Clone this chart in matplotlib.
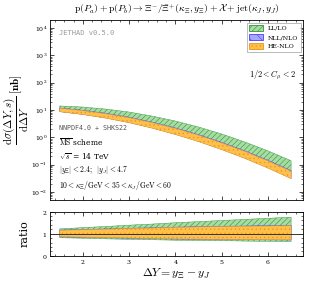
import numpy as np
import matplotlib
matplotlib.use("Agg")
import matplotlib.pyplot as plt
from matplotlib.patches import Patch

plt.rcParams['mathtext.fontset'] = 'cm'
plt.rcParams['font.family'] = 'serif'
plt.rcParams['font.serif'] = ['DejaVu Serif']
plt.rcParams['axes.formatter.use_mathtext'] = True
plt.rcParams['hatch.linewidth'] = 0.4

# ---- data ----
dY = [1.5, 2.0, 2.5, 3.0, 3.5, 4.0, 4.5, 5.0, 5.5, 6.0, 6.5]

ll_central = [11.5, 10.0, 8.1, 6.05, 4.15, 2.63, 1.54, 0.83, 0.41, 0.188, 0.080]
ll_ratio_lo = [0.82, 0.80, 0.77, 0.75, 0.73, 0.71, 0.70, 0.69, 0.67, 0.66, 0.65]
ll_ratio_hi = [1.22, 1.28, 1.33, 1.39, 1.44, 1.50, 1.55, 1.60, 1.65, 1.70, 1.75]

nll_central = [10.1, 8.2, 6.2, 4.34, 2.82, 1.70, 0.95, 0.49, 0.238, 0.106, 0.044]
nll_ratio_lo = [0.86, 0.84, 0.82, 0.80, 0.78, 0.76, 0.75, 0.74, 0.73, 0.725, 0.72]
nll_ratio_hi = [1.17, 1.19, 1.22, 1.25, 1.27, 1.30, 1.32, 1.34, 1.35, 1.37, 1.38]

he_central = [9.9, 8.0, 6.0, 4.2, 2.72, 1.63, 0.91, 0.47, 0.228, 0.101, 0.042]
he_ratio_lo = [0.87, 0.85, 0.83, 0.81, 0.79, 0.77, 0.76, 0.75, 0.74, 0.735, 0.73]
he_ratio_hi = [1.16, 1.18, 1.21, 1.24, 1.26, 1.29, 1.31, 1.32, 1.34, 1.35, 1.36]

labels = ['LL/LO', 'NLL/NLO', 'HE-NLO']
x_ticks = [2, 3, 4, 5, 6]

# ---- figure ----
fig = plt.figure(figsize=(3.09, 2.82), dpi=100)
ax = fig.add_axes([0.162, 0.291, 0.819, 0.638])
axr = fig.add_axes([0.162, 0.0925, 0.819, 0.157], sharex=ax)

x = np.array(dY)
styles = [
    dict(facecolor='#a8dca0', edgecolor='#2e9440', hatch='//////'),
    dict(facecolor='#a8a8ff', edgecolor='#4040ff', hatch='\\\\\\'),
    dict(facecolor='#ffc04a', edgecolor='#e89418', hatch='....'),
]
series = [
    (ll_central, ll_ratio_lo, ll_ratio_hi),
    (nll_central, nll_ratio_lo, nll_ratio_hi),
    (he_central, he_ratio_lo, he_ratio_hi),
]
for (c, rlo, rhi), st, lab in zip(series, styles, labels):
    c = np.array(c); rlo = np.array(rlo); rhi = np.array(rhi)
    ax.fill_between(x, c * rlo, c * rhi, linewidth=0.3, label=lab, **st)
    axr.fill_between(x, rlo, rhi, linewidth=0.3, **st)

ax.set_yscale('log')
ax.set_ylim(10**-2.29, 10**4.29)
ax.set_xlim(1.29, 6.76)
axr.set_ylim(0, 2)
axr.axhline(1.0, color='#333333', lw=0.7)

for a in (ax, axr):
    a.tick_params(which='both', direction='in', top=True, right=True, labelsize=4.5, pad=2)
    a.tick_params(which='major', length=3, width=0.5)
    a.tick_params(which='minor', length=1.5, width=0.4)
    a.minorticks_on()
    for s in a.spines.values():
        s.set_linewidth(0.6)
ax.tick_params(labelbottom=False)
axr.tick_params(axis='x', pad=1.5)
axr.set_xticks(x_ticks)
axr.set_yticks([0, 1, 2])

ax.set_title(r'$\mathrm{p}(P_a) + \mathrm{p}(P_b) \to \Xi^{-}/\bar{\Xi}^{+}(\kappa_{\Xi}, y_{\Xi}) + \mathcal{X} + \mathrm{jet}(\kappa_J, y_J)$',
             fontsize=7, pad=6)
ax.set_ylabel(r'$\dfrac{\mathrm{d}\sigma(\Delta Y, s)}{\mathrm{d}\Delta Y}\;[\mathbf{nb}]$', fontsize=8, labelpad=0)
axr.set_ylabel('ratio', fontsize=8)
axr.yaxis.set_label_coords(-0.08, 0.5)
axr.set_xlabel(r'$\Delta Y = y_{\Xi} - y_J$', fontsize=8.5)
axr.xaxis.set_label_coords(0.5, -0.25)

ax.text(0.035, 0.93, 'JETHAD v0.5.0', transform=ax.transAxes, fontsize=5,
        family='DejaVu Sans Mono', color='#999999', va='center')
ax.text(0.97, 0.69, r'$1/2 < C_{\mu} < 2$', transform=ax.transAxes, fontsize=6,
        ha='right', va='center')
ax.text(0.035, 0.40, 'NNPDF4.0 + SHKS22', transform=ax.transAxes, fontsize=4.8,
        family='DejaVu Sans Mono', color='#555555', va='center')
ax.text(0.035, 0.32, r'$\overline{\mathrm{MS}}$ scheme', transform=ax.transAxes, fontsize=5.5, va='center')
ax.text(0.035, 0.24, r'$\sqrt{s}$ = 14 TeV', transform=ax.transAxes, fontsize=5.5, va='center')
ax.text(0.035, 0.165, r'$|y_{\Xi}| < 2.4;\;\;|y_J| < 4.7$', transform=ax.transAxes, fontsize=5.5, va='center')
ax.text(0.035, 0.08, r'$10 < \kappa_{\Xi}/\mathrm{GeV} < 35 < \kappa_J/\mathrm{GeV} < 60$', transform=ax.transAxes,
        fontsize=5.5, va='center')

handles = [Patch(label=l, linewidth=0.6, **s) for l, s in zip(labels, styles)]
leg = ax.legend(handles=handles, loc='upper right', fontsize=4.5, frameon=True,
                fancybox=False, edgecolor='#888888', handlelength=2.2, handleheight=1.0,
                borderaxespad=0.4, labelspacing=0.5)
leg.get_frame().set_linewidth(0.5)

fig.savefig('out.png', dpi=100)
